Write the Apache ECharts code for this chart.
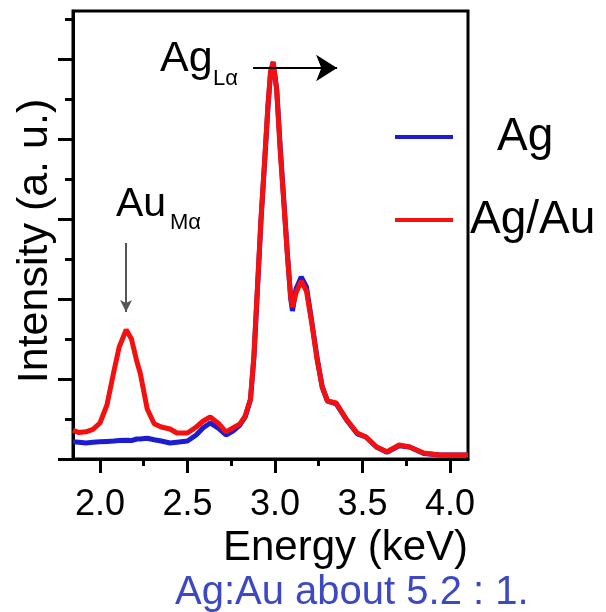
<!DOCTYPE html>
<html><head><meta charset="utf-8">
<script src="https://cdn.jsdelivr.net/npm/echarts@6/dist/echarts.min.js"></script>
<style>html,body{margin:0;padding:0;background:#fff}#c{width:606px;height:612px}</style>
</head><body><div id="c"></div>
<script>
const energy = [1.846, 1.88, 1.92, 1.96, 2.00, 2.04, 2.08, 2.11, 2.15, 2.18, 2.21, 2.23, 2.27, 2.31, 2.35, 2.40, 2.44, 2.50, 2.55, 2.59, 2.63, 2.68, 2.72, 2.76, 2.80, 2.83, 2.86, 2.88, 2.90, 2.92, 2.94, 2.96, 2.975, 2.99, 3.01, 3.03, 3.05, 3.07, 3.09, 3.10, 3.12, 3.15, 3.18, 3.21, 3.24, 3.27, 3.30, 3.35, 3.41, 3.47, 3.52, 3.58, 3.64, 3.71, 3.77, 3.85, 3.94, 4.04, 4.103];
const agAu = [0.72, 0.66, 0.68, 0.74, 0.9, 1.35, 2.2, 2.8, 3.23, 3.0, 2.45, 2.15, 1.25, 0.88, 0.8, 0.75, 0.65, 0.65, 0.8, 0.95, 1.05, 0.88, 0.68, 0.78, 0.88, 1.08, 1.5, 2.6, 4.3, 6.0, 7.4, 8.85, 9.7, 9.93, 9.2, 7.7, 6.45, 5.15, 4.05, 3.8, 4.15, 4.45, 4.2, 3.4, 2.5, 1.8, 1.45, 1.4, 0.98, 0.65, 0.55, 0.3, 0.18, 0.35, 0.3, 0.15, 0.1, 0.1, 0.1];
const ag = [0.43, 0.42, 0.4, 0.42, 0.43, 0.44, 0.45, 0.46, 0.47, 0.46, 0.5, 0.5, 0.52, 0.48, 0.45, 0.4, 0.42, 0.45, 0.6, 0.78, 0.9, 0.76, 0.6, 0.7, 0.85, 1.05, 1.48, 2.55, 4.25, 5.95, 7.35, 8.8, 9.65, 9.9, 9.25, 7.8, 6.5, 5.2, 4.0, 3.7, 4.25, 4.55, 4.3, 3.45, 2.55, 1.8, 1.45, 1.38, 0.97, 0.63, 0.55, 0.3, 0.17, 0.33, 0.3, 0.14, 0.1, 0.1, 0.1];
const majorXTicks = [2.0, 2.5, 3.0, 3.5, 4.0];
const minorXTicks = [2.25, 2.75, 3.25, 3.75];
const majorYTicks = [0, 2, 4, 6, 8, 10];
const minorYTicks = [1, 3, 5, 7, 9, 11];
const seriesNames = ['Ag', 'Ag/Au'];

const FONT = 'Liberation Sans, Arial, sans-serif';
const chart = echarts.init(document.getElementById('c'));
const pair = (xs, ys) => xs.map((x, i) => [x, ys[i]]);
const XMIN = 1.846, XMAX = 4.103, YMAX = 11.2;
const blk = '#000';

chart.setOption({
  animation: false,
  backgroundColor: '#fff',
  grid: { left: 73, right: 138, top: 11, bottom: 153, show: true, borderColor: blk, borderWidth: 3, backgroundColor: 'transparent' },
  legend: [
    { data: [seriesNames[0]], left: 395, top: 114, padding: 0, selectedMode: false, icon: 'rect', itemWidth: 58, itemHeight: 4,
      textStyle: { fontSize: 46, fontFamily: FONT, color: blk, padding: [0, 0, 0, 39] } },
    { data: [seriesNames[1]], left: 395, top: 197, padding: 0, selectedMode: false, icon: 'rect', itemWidth: 58, itemHeight: 4,
      textStyle: { fontSize: 46, fontFamily: FONT, color: blk, padding: [0, 0, 0, 12] } }
  ],
  xAxis: [
    { type: 'value', min: XMIN, max: XMAX, position: 'bottom',
      axisLine: { show: true, lineStyle: { color: blk, width: 3 } },
      axisTick: { show: true, customValues: majorXTicks, length: 14, lineStyle: { color: blk, width: 3 } },
      axisLabel: { show: true, customValues: majorXTicks, formatter: v => v.toFixed(1), fontSize: 36, fontFamily: FONT, color: blk, margin: 28 },
      splitLine: { show: false },
      name: 'Energy (keV)', nameLocation: 'middle', nameGap: 67,
      nameTextStyle: { fontSize: 42, fontFamily: FONT, color: blk, padding: [0, 0, 0, 150] } },
    { type: 'value', min: XMIN, max: XMAX, position: 'bottom',
      axisLine: { show: false },
      axisTick: { show: true, customValues: minorXTicks, length: 7, lineStyle: { color: blk, width: 3 } },
      axisLabel: { show: false }, splitLine: { show: false } }
  ],
  yAxis: [
    { type: 'value', min: 0, max: YMAX, position: 'left',
      axisLine: { show: true, lineStyle: { color: blk, width: 3 } },
      axisTick: { show: true, customValues: majorYTicks, length: 15, lineStyle: { color: blk, width: 3 } },
      axisLabel: { show: false }, splitLine: { show: false },
      name: 'Intensity (a. u.)', nameLocation: 'middle', nameGap: 16,
      nameTextStyle: { fontSize: 43, fontFamily: FONT, color: blk, padding: [0, 12, 0, 0] } },
    { type: 'value', min: 0, max: YMAX, position: 'left',
      axisLine: { show: false },
      axisTick: { show: true, customValues: minorYTicks, length: 8, lineStyle: { color: blk, width: 3 } },
      axisLabel: { show: false }, splitLine: { show: false } }
  ],
  series: [
    { name: seriesNames[0], type: 'line', data: pair(energy, ag), showSymbol: false, symbol: 'none',
      lineStyle: { color: '#1c1cd2', width: 5 }, itemStyle: { color: '#1c1cd2' }, z: 2 },
    { name: seriesNames[1], type: 'line', data: pair(energy, agAu), showSymbol: false, symbol: 'none',
      lineStyle: { color: '#f51010', width: 5 }, itemStyle: { color: '#f51010' }, z: 3,
      markLine: {
        silent: true, symbol: ['none', 'arrow'], label: { show: false }, animation: false,
        lineStyle: { type: 'solid' },
        data: [
          [ { coord: [2.875, 9.775], lineStyle: { color: blk, width: 2, type: 'solid' }, symbolSize: [20, 21] },
            { coord: [3.355, 9.775], symbolSize: [20, 21] } ],
          [ { coord: [2.149, 5.4], lineStyle: { color: '#555', width: 2, type: 'solid' }, symbolSize: [9, 12] },
            { coord: [2.149, 3.675], symbolSize: [9, 12] } ]
        ]
      } }
  ],
  graphic: [
    { type: 'text', left: 160, top: 38, style: { text: 'Ag', font: '43px ' + FONT, fill: blk } },
    { type: 'text', left: 213, top: 68, style: { text: 'Lα', font: '22px ' + FONT, fill: blk } },
    { type: 'text', left: 116, top: 184, style: { text: 'Au', font: '41px ' + FONT, fill: blk } },
    { type: 'text', left: 170, top: 212, style: { text: 'Mα', font: '22px ' + FONT, fill: blk } },
    { type: 'text', left: 175, top: 573, style: { text: 'Ag:Au about 5.2 : 1.', font: '40px ' + FONT, fill: '#3c48c4' } }
  ]
});
</script></body></html>
